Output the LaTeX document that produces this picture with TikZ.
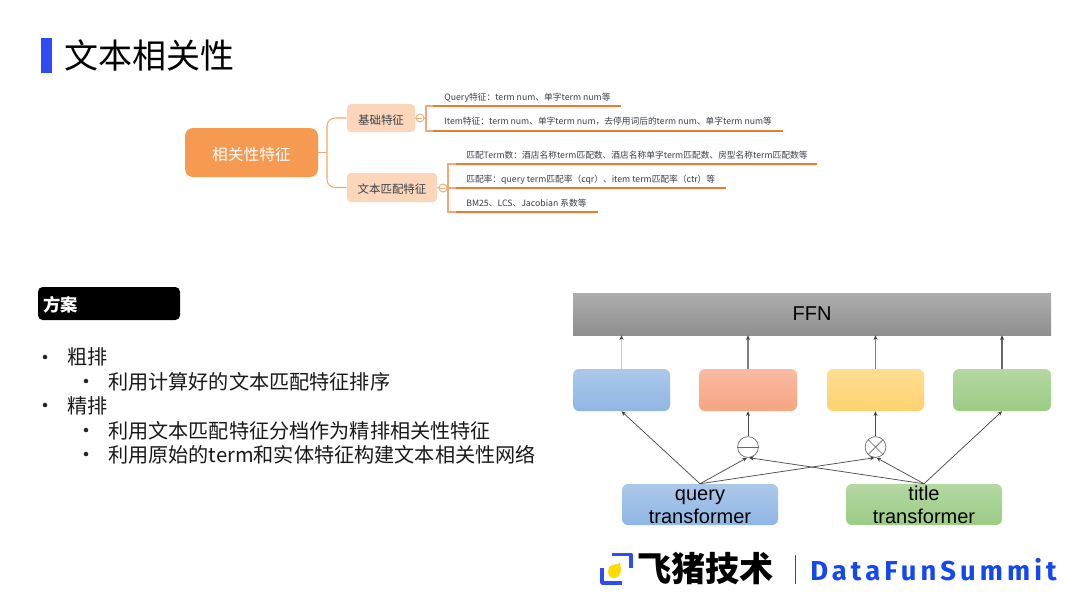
\documentclass[tikz,border=0pt]{standalone}
\usepackage{fontspec}
\setmainfont{Noto Sans CJK SC}
\newfontfamily\arialf{Liberation Sans}
\newfontfamily\brandf[LetterSpace=15]{Fira Sans}
\usetikzlibrary{arrows.meta,positioning}
\definecolor{barblue}{HTML}{2F4BF5}
\definecolor{rootfill}{HTML}{F59A50}
\definecolor{subfill}{HTML}{FBD6BB}
\definecolor{mmline}{HTML}{EF7A2C}
\definecolor{stem}{HTML}{F0A877}
\definecolor{mmtext}{HTML}{3A3F4A}
\definecolor{brandblue}{HTML}{1447F0}
\newcommand{\dnshift}[1]{\raisebox{-1.4pt}[\height][\depth]{#1}}
\tikzset{
  boxsz/.style n args={2}{minimum width=#1*0.75pt,minimum height=#2*0.75pt,inner sep=0pt},
  rootbox/.style={rectangle,rounded corners=6pt,fill=rootfill,text=white,font=\fontsize{11.8}{14}\selectfont},
  subbox/.style={rectangle,rounded corners=3pt,fill=subfill,text=mmtext,font=\fontsize{8.6}{10}\selectfont},
  leaf/.style={anchor=west,inner sep=0pt,text=mmtext,font=\fontsize{6.55}{8}\selectfont},
  under/.style={draw=mmline,line width=1.5pt},
  stemline/.style={draw=stem,line width=0.8pt},
  knob/.style={circle,draw=stem,line width=0.7pt,fill=white,minimum size=6pt,inner sep=0pt},
  bul/.style={anchor=west,inner sep=0pt,font=\fontsize{15.1}{17}\selectfont,text=black!90},
  dotb/.style={circle,fill=black!85,minimum size=3.4pt,inner sep=0pt},
  blockb/.style={rectangle,rounded corners=4.5pt,top color=#1!75!white,bottom color=#1},
  flow/.style={draw=black!70,line width=0.55pt,-{Stealth[length=3.5pt,width=3pt,color=black!75]}},
  opnode/.style={circle,draw=black!60,line width=0.5pt,fill=white,minimum size=15.6pt,inner sep=0pt},
  optick/.style={draw=black!60,line width=0.5pt},
  txlabel/.style={font=\arialf\fontsize{15}{17.3}\selectfont,align=center,text=black},
}
\begin{document}
\begin{tikzpicture}[x=0.75pt,y=-0.75pt]
\useasboundingbox[fill=white] (0,0) rectangle (1080,608);
% title
\node[boxsz={11}{35},fill=barblue] (bar) at (46.5,55.5) {};
\node[anchor=west,inner sep=0pt,font=\fontsize{25.5}{28}\selectfont,text=black] (title) at (64,55) {文本相关性};
% mind map
\node[boxsz={133}{49},rootbox] (root) at (251.5,152.5) {\dnshift{相关性特征}};
\node[boxsz={68}{28},subbox] (s1) at (381,118) {\dnshift{基础特征}};
\node[boxsz={90}{29},subbox] (s2) at (392,187.5) {\dnshift{文本匹配特征}};
\coordinate (jn) at (327,152.5);
\draw[stemline] (root.east) -- (jn);
\draw[stemline,rounded corners=6pt] (jn) |- (s1.west);
\draw[stemline,rounded corners=6pt] (jn) |- (s2.west);
% leaves
\node[leaf] (l1) at (444,97.5) {Query特征：term num、单字term num等};
\node[leaf] (l2) at (444,121.5) {Item特征：term num、单字term num，去停用词后的term num、单字term num等};
\node[leaf] (l3) at (466,155.5) {匹配Term数：酒店名称term匹配数、酒店名称单字term匹配数、房型名称term匹配数等};
\node[leaf] (l4) at (466,179.5) {匹配率：query term匹配率（cqr）、item term匹配率（ctr）等};
\node[leaf] (l5) at (466,203.5) {BM25、LCS、Jacobian 系数等};
\coordinate (u1a) at (433,106); \coordinate (u1b) at (621,106);
\coordinate (u2a) at (433,131); \coordinate (u2b) at (783,131);
\coordinate (u3a) at (456,164); \coordinate (u3b) at (817,164);
\coordinate (u4a) at (456,188); \coordinate (u4b) at (726,188);
\coordinate (u5a) at (456,212); \coordinate (u5b) at (598,212);
\coordinate (b1) at (426,118.5);
\coordinate (b2) at (448,188);
\draw[stemline] (u1a) -| (b1) |- (u2a);
\draw[stemline] (u3a) -| (b2) |- (u5a);
\draw[stemline] (b2) -- (u4a);
\draw[stemline] (s1.east) -- (b1);
\draw[stemline] (s2.east) -- (b2);
\draw[under] (u1a) -- (u1b);
\draw[under] (u2a) -- (u2b);
\draw[under] (u3a) -- (u3b);
\draw[under] (u4a) -- (u4b);
\draw[under] (u5a) -- (u5b);
\node[knob] (k1) at (420,118) {};
\node[knob] (k2) at (443,188) {};
\draw[stem,line width=0.5pt] (k1.west) ++(1.5,0) -- ++(5,0);
\draw[stem,line width=0.5pt] (k2.west) ++(1.5,0) -- ++(5,0);
% plan
\node[boxsz={142}{33},rectangle,rounded corners=3.5pt,fill=black] (plan) at (109,303.5) {};
\node[anchor=west,inner sep=0pt,text=white,font=\bfseries\fontsize{13}{14}\selectfont] (plant) at (43,304.5) {方案};
\node[dotb] (d1) at (45,357) {};
\node[bul] (t1) at (67,357) {粗排};
\node[dotb] (d2) at (86,381) {};
\node[bul] (t2) at (108,381.5) {利用计算好的文本匹配特征排序};
\node[dotb] (d3) at (45,405) {};
\node[bul] (t3) at (67,405.5) {精排};
\node[dotb] (d4) at (86,430) {};
\node[bul] (t4) at (108,430.5) {利用文本匹配特征分档作为精排相关性特征};
\node[dotb] (d5) at (86,454) {};
\node[bul] (t5) at (108,454.5) {利用原始的term和实体特征构建文本相关性网络};
% network
\node[boxsz={478}{42},rectangle,top color=black!32,bottom color=black!44,font=\arialf\fontsize{15}{17}\selectfont] (ffn) at (812,314) {FFN};
\definecolor{cb}{HTML}{8FB6E3}
\definecolor{cr}{HTML}{F6A482}
\definecolor{cy}{HTML}{FFD26F}
\definecolor{cg}{HTML}{9BCB84}
\node[boxsz={97}{42},blockb=cb] (f1) at (621.5,390) {};
\node[boxsz={98}{42},blockb=cr] (f2) at (748,390) {};
\node[boxsz={97}{42},blockb=cy] (f3) at (875.5,390) {};
\node[boxsz={98}{42},blockb=cg] (f4) at (1002,390) {};
\node[boxsz={156}{41},blockb=cb] (q) at (700,504.5) {};
\node[boxsz={156}{41},blockb=cg] (v) at (924,504.5) {};
\node[txlabel,inner sep=0pt] (qt) at (700,506.5) {query\\transformer};
\node[txlabel,inner sep=0pt] (vt) at (924,505) {title\\transformer};
\node[opnode] (minus) at (748,447) {};
\node[opnode] (times) at (875.5,447) {};
\draw[optick] (minus.west) -- (minus.east);
\draw[optick] (times.45) -- (times.225);
\draw[optick] (times.135) -- (times.315);
\draw[flow,draw=black!22,line width=0.8pt] (f1.north) -- (f1.north |- ffn.south);
\draw[flow,draw=black!50,line width=0.8pt] (f2.north) -- (f2.north |- ffn.south);
\draw[flow,draw=black!50] (f3.north) -- (f3.north |- ffn.south);
\draw[flow,draw=black!60,line width=0.8pt] (f4.north) -- (f4.north |- ffn.south);
\draw[flow] (q.north) -- (f1.south);
\draw[flow] (v.north) -- (f4.south);
\draw[flow,line width=0.7pt] (minus.north) -- (f2.south);
\draw[flow] (times.north) -- (f3.south);
\draw[flow] (q.north) -- (minus.265);
\draw[flow] (q.north) -- (times.265);
\draw[flow] (v.north) -- (minus.275);
\draw[flow] (v.north) -- (times.275);
% logo
\draw[barblue,line width=2.6pt,line join=round] (612,554.5) -- (631,554.5) -- (631,568);
\draw[barblue,line width=2.6pt,line join=round] (602,568) -- (602,583) -- (622,583);
\fill[orange!30!yellow] (620,563) .. controls (622,570) and (621,578) .. (614,578) .. controls (606,578) and (606,566) .. (613,565) -- cycle;
\node[anchor=west,inner sep=0pt,font=\bfseries\fontsize{25.6}{27}\selectfont,text=black] (brand) at (637,568) {飞猪技术};
\coordinate (da) at (795,555); \coordinate (db) at (795,584);
\draw[black!70,line width=0.6pt] (da) -- (db);
\node[anchor=west,inner sep=0pt,text=brandblue,font=\brandf\bfseries\fontsize{20.5}{22}\selectfont] (dfs) at (810,570) {DataFunSummit};
\end{tikzpicture}
\end{document}
